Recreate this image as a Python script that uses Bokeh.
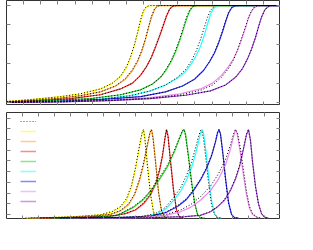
from bokeh.plotting import figure
from bokeh.models import Range1d, LinearAxis, FixedTicker, Legend, LegendItem, CustomJSTickFormatter
from bokeh.layouts import column
from bokeh.core.properties import value
from bokeh.embed import file_html
from bokeh.resources import INLINE

colors = ["#ffff00", "#ffa530", "#ff2828", "#22d822", "#22ffff", "#2828ff", "#ee88ee", "#a040e0"]

# ---- top panel: cumulative curves (x, measured, fit) ----
top_yellow_x = [0, 12, 27, 37, 47, 53, 57, 60, 62, 64, 65.5, 67, 68.5, 70, 72, 137]
top_yellow_y = [0.01, 0.03, 0.06, 0.09, 0.14, 0.20, 0.27, 0.36, 0.46, 0.59, 0.71, 0.84, 0.94, 0.985, 1.0, 1.0]
top_yellow_fit = [0.012, 0.03, 0.06, 0.09, 0.14, 0.2, 0.27, 0.37, 0.47, 0.6, 0.72, 0.85, 0.95, 0.99, 1.0, 1.0]

top_orange_x = [0, 12, 27, 37, 47, 54.5, 59.5, 63, 65.5, 67.5, 69.5, 71, 72.5, 74, 75.5, 77, 137]
top_orange_y = [0.005, 0.02, 0.045, 0.07, 0.11, 0.17, 0.24, 0.33, 0.42, 0.52, 0.65, 0.77, 0.88, 0.96, 0.995, 1.0, 1.0]
top_orange_fit = [0.006, 0.02, 0.045, 0.07, 0.11, 0.17, 0.25, 0.34, 0.43, 0.53, 0.66, 0.78, 0.89, 0.965, 0.995, 1.0, 1.0]

top_red_x = [0, 17, 32, 47, 57, 63, 67, 70, 72.5, 74.5, 76.5, 78.5, 80, 81.5, 83, 85, 137]
top_red_y = [0.004, 0.02, 0.04, 0.08, 0.14, 0.2, 0.28, 0.37, 0.47, 0.57, 0.68, 0.8, 0.89, 0.96, 0.99, 1.0, 1.0]
top_red_fit = [0.005, 0.02, 0.04, 0.08, 0.14, 0.2, 0.28, 0.37, 0.47, 0.58, 0.69, 0.81, 0.9, 0.965, 0.99, 1.0, 1.0]

top_green_x = [0, 22, 42, 57, 67, 73, 77, 80, 82.5, 84.5, 86.5, 88.5, 90, 91.5, 93, 95, 137]
top_green_y = [0.003, 0.02, 0.04, 0.08, 0.13, 0.19, 0.26, 0.34, 0.43, 0.52, 0.63, 0.76, 0.86, 0.94, 0.985, 1.0, 1.0]
top_green_fit = [0.003, 0.02, 0.04, 0.08, 0.13, 0.19, 0.26, 0.35, 0.44, 0.54, 0.65, 0.78, 0.88, 0.95, 0.99, 1.0, 1.0]

top_cyan_x = [0, 27, 47, 62, 72, 79.5, 85.5, 89.5, 92.5, 95, 97, 99, 100.5, 102, 103.5, 105, 107, 137]
top_cyan_y = [0.002, 0.015, 0.035, 0.07, 0.12, 0.18, 0.25, 0.32, 0.4, 0.49, 0.58, 0.7, 0.81, 0.91, 0.97, 0.995, 1.0, 1.0]
top_cyan_fit = [0.002, 0.015, 0.035, 0.07, 0.12, 0.18, 0.26, 0.34, 0.43, 0.54, 0.65, 0.78, 0.88, 0.95, 0.985, 1.0, 1.0, 1.0]

top_blue_x = [0, 27, 47, 67, 79.5, 88, 94, 98.5, 101.5, 104, 106, 108, 109.5, 111, 112.5, 114, 116, 137]
top_blue_y = [0.002, 0.012, 0.03, 0.06, 0.11, 0.17, 0.24, 0.33, 0.42, 0.51, 0.61, 0.73, 0.83, 0.92, 0.975, 0.995, 1.0, 1.0]
top_blue_fit = [0.002, 0.012, 0.03, 0.06, 0.11, 0.17, 0.24, 0.33, 0.42, 0.52, 0.62, 0.74, 0.84, 0.93, 0.98, 0.997, 1.0, 1.0]

top_pink_x = [0, 27, 52, 72, 87, 97, 103, 107.5, 111, 113.5, 115.5, 117.5, 119.5, 121, 122.5, 124, 126, 137]
top_pink_y = [0.001, 0.008, 0.025, 0.05, 0.09, 0.14, 0.2, 0.28, 0.37, 0.45, 0.54, 0.65, 0.77, 0.87, 0.94, 0.98, 1.0, 1.0]
top_pink_fit = [0.001, 0.007, 0.022, 0.045, 0.08, 0.125, 0.18, 0.26, 0.35, 0.44, 0.54, 0.66, 0.78, 0.88, 0.945, 0.985, 1.0, 1.0]

top_purple_x = [0, 27, 52, 72, 89.5, 102, 109.5, 114.5, 118, 120.5, 122.5, 124.5, 126, 127.5, 129, 130.5, 132.5, 137]
top_purple_y = [0.0, 0.006, 0.02, 0.04, 0.075, 0.12, 0.18, 0.26, 0.35, 0.45, 0.55, 0.67, 0.78, 0.88, 0.95, 0.985, 1.0, 1.0]
top_purple_fit = [0.0, 0.006, 0.02, 0.04, 0.075, 0.12, 0.18, 0.26, 0.35, 0.45, 0.55, 0.67, 0.78, 0.88, 0.95, 0.985, 1.0, 1.0]

# ---- bottom panel: normalised peaks (x, measured, fit) ----
bot_yellow_x = [9.5, 22, 34.5, 47, 53, 57, 60, 62.5, 64.5, 66.5, 67.75, 68.5, 69.25, 70.5, 72, 73.5, 75, 77]
bot_yellow_y = [0, 0.005, 0.015, 0.035, 0.07, 0.12, 0.2, 0.35, 0.55, 0.8, 0.95, 1.0, 0.9, 0.6, 0.28, 0.07, 0.01, 0]
bot_yellow_fit = [0, 0.005, 0.016, 0.037, 0.075, 0.13, 0.22, 0.37, 0.57, 0.82, 0.96, 1.0, 0.88, 0.58, 0.27, 0.07, 0.01, 0]

bot_orange_x = [12, 27, 42, 52, 57, 61, 64, 66.5, 68.5, 70.5, 71.75, 72.5, 73.25, 74.5, 76, 77.5, 79, 81]
bot_orange_y = [0, 0.005, 0.015, 0.04, 0.08, 0.15, 0.26, 0.42, 0.6, 0.82, 0.96, 1.0, 0.92, 0.65, 0.3, 0.08, 0.01, 0]
bot_orange_fit = [0, 0.005, 0.016, 0.042, 0.085, 0.16, 0.27, 0.44, 0.62, 0.84, 0.97, 1.0, 0.9, 0.63, 0.29, 0.08, 0.01, 0]

bot_red_x = [17, 37, 52, 59.5, 64.5, 68.5, 72, 74.5, 76.5, 78, 79.25, 80, 80.75, 82, 83.5, 85, 86.5, 88.5]
bot_red_y = [0, 0.005, 0.02, 0.05, 0.09, 0.16, 0.26, 0.38, 0.53, 0.7, 0.9, 1.0, 0.93, 0.65, 0.32, 0.09, 0.01, 0]
bot_red_fit = [0, 0.005, 0.02, 0.05, 0.095, 0.17, 0.28, 0.4, 0.55, 0.72, 0.91, 1.0, 0.92, 0.63, 0.31, 0.09, 0.01, 0]

bot_green_x = [22, 42, 55.5, 63.5, 68, 72, 76, 80.5, 84, 86.5, 88, 88.75, 89.5, 91, 92.5, 94, 95.5, 97, 99]
bot_green_y = [0, 0.005, 0.03, 0.12, 0.2, 0.3, 0.42, 0.58, 0.75, 0.9, 0.98, 1.0, 0.95, 0.7, 0.42, 0.18, 0.04, 0.005, 0]
bot_green_fit = [0, 0.006, 0.032, 0.13, 0.21, 0.31, 0.44, 0.6, 0.77, 0.91, 0.99, 1.0, 0.93, 0.68, 0.4, 0.17, 0.04, 0.005, 0]

bot_cyan_x = [27, 52, 67, 74.5, 79.5, 83.5, 87, 90, 92.5, 94.5, 96, 97, 97.75, 98.5, 99.75, 101, 102.5, 104, 105.5, 107.5]
bot_cyan_y = [0, 0.005, 0.01, 0.04, 0.1, 0.2, 0.3, 0.43, 0.57, 0.72, 0.86, 0.96, 1.0, 0.96, 0.75, 0.48, 0.2, 0.05, 0.005, 0]
bot_cyan_fit = [0, 0.006, 0.015, 0.05, 0.12, 0.23, 0.34, 0.48, 0.63, 0.79, 0.92, 0.99, 0.98, 0.9, 0.66, 0.4, 0.15, 0.04, 0.005, 0]

bot_blue_x = [27, 57, 72, 79.5, 85.5, 90, 93.5, 97, 100, 102.5, 104.5, 105.5, 106.25, 107, 108.25, 109.5, 111, 112.5, 114, 116]
bot_blue_y = [0, 0.005, 0.02, 0.06, 0.13, 0.21, 0.31, 0.43, 0.56, 0.7, 0.86, 0.96, 1.0, 0.95, 0.72, 0.45, 0.18, 0.04, 0.005, 0]
bot_blue_fit = [0, 0.006, 0.022, 0.065, 0.14, 0.22, 0.32, 0.44, 0.57, 0.71, 0.87, 0.97, 1.0, 0.94, 0.7, 0.43, 0.17, 0.04, 0.005, 0]

bot_pink_x = [32, 62, 79.5, 87, 92, 97, 102, 106, 109.5, 112, 113.5, 114.5, 115.5, 117, 118.5, 120, 121.5, 123, 125, 127]
bot_pink_y = [0, 0.005, 0.03, 0.07, 0.12, 0.2, 0.31, 0.44, 0.6, 0.78, 0.92, 1.0, 0.94, 0.72, 0.48, 0.26, 0.11, 0.04, 0.01, 0]
bot_pink_fit = [0, 0.008, 0.04, 0.09, 0.15, 0.24, 0.36, 0.5, 0.66, 0.83, 0.95, 1.0, 0.96, 0.78, 0.54, 0.3, 0.13, 0.05, 0.012, 0]

bot_purple_x = [37, 72, 89.5, 97, 102, 105.5, 109, 112, 114.5, 116.5, 118.5, 120, 121, 122, 123, 124.5, 126, 127.5, 129, 131]
bot_purple_y = [0, 0.005, 0.015, 0.03, 0.07, 0.125, 0.2, 0.31, 0.44, 0.58, 0.78, 0.94, 1.0, 0.88, 0.64, 0.36, 0.16, 0.05, 0.01, 0]
bot_purple_fit = [0, 0.005, 0.016, 0.032, 0.072, 0.13, 0.21, 0.32, 0.45, 0.59, 0.79, 0.95, 1.0, 0.87, 0.63, 0.35, 0.16, 0.05, 0.01, 0]

top_series = [
    (top_yellow_x, top_yellow_y, top_yellow_fit),
    (top_orange_x, top_orange_y, top_orange_fit),
    (top_red_x, top_red_y, top_red_fit),
    (top_green_x, top_green_y, top_green_fit),
    (top_cyan_x, top_cyan_y, top_cyan_fit),
    (top_blue_x, top_blue_y, top_blue_fit),
    (top_pink_x, top_pink_y, top_pink_fit),
    (top_purple_x, top_purple_y, top_purple_fit),
]
bot_series = [
    (bot_yellow_x, bot_yellow_y, bot_yellow_fit),
    (bot_orange_x, bot_orange_y, bot_orange_fit),
    (bot_red_x, bot_red_y, bot_red_fit),
    (bot_green_x, bot_green_y, bot_green_fit),
    (bot_cyan_x, bot_cyan_y, bot_cyan_fit),
    (bot_blue_x, bot_blue_y, bot_blue_fit),
    (bot_pink_x, bot_pink_y, bot_pink_fit),
    (bot_purple_x, bot_purple_y, bot_purple_fit),
]

X_MAX = 137.0
top_xticks = [X_MAX / 16 * k for k in range(1, 16)]
bot_xticks = [X_MAX / 17 * k for k in range(1, 17)]
top_yticks = [0.0, 0.2, 0.4, 0.6, 0.8, 1.0]
bot_yticks = [0.04 + 0.121 * k for k in range(10)]


def make_fig(fh, yr, xticks, yticks, top_border):
    p = figure(frame_width=274, frame_height=fh, x_range=Range1d(0, X_MAX), y_range=Range1d(*yr),
               x_axis_location=None, y_axis_location=None, toolbar_location=None,
               output_backend="svg", min_border=0, min_border_top=top_border, min_border_left=6)
    p.xgrid.grid_line_color = None
    p.ygrid.grid_line_color = None
    p.outline_line_color = "#333333"
    p.outline_line_width = 1
    p.background_fill_color = "white"
    p.border_fill_color = "white"
    for loc, ticks in (("below", xticks), ("above", xticks), ("left", yticks), ("right", yticks)):
        ax = LinearAxis(ticker=FixedTicker(ticks=ticks), formatter=CustomJSTickFormatter(code="return ''"))
        ax.major_tick_in = 4
        ax.major_tick_out = 0
        ax.minor_tick_in = 0
        ax.minor_tick_out = 0
        ax.major_label_text_font_size = "0px"
        ax.major_label_standoff = 0
        ax.axis_line_color = None
        ax.major_tick_line_color = "#808080"
        p.add_layout(ax, loc)
    return p


p1 = make_fig(105, (-0.031, 1.052), top_xticks, top_yticks, 0)
for (xs, ys, fs), c in zip(top_series, colors):
    p1.line(xs, ys, line_color=c, line_width=1.2)
for (xs, ys, fs), c in zip(top_series, colors):
    p1.line(xs, fs, line_color="black", line_width=1, line_dash="1 2")

p2 = make_fig(107, (-0.017, 1.192), bot_xticks, bot_yticks, 7)
for (xs, ys, fs), c in zip(bot_series, colors):
    p2.line(xs, ys, line_color=c, line_width=1.2)
for (xs, ys, fs), c in zip(bot_series, colors):
    p2.line(xs, fs, line_color="black", line_width=1, line_dash="1 2")

# legend swatches (renderers holding no visible point, styled like the legend)
nan = float("nan")
fit_proxy = p2.line(x=[nan], y=[nan], line_color="black", line_alpha=0.7, line_width=1, line_dash="1 2")
items = [LegendItem(label=value(""), renderers=[fit_proxy])]
for c in colors:
    r = p2.line(x=[nan], y=[nan], line_color=c, line_alpha=0.55, line_width=1.5)
    items.append(LegendItem(label=value(""), renderers=[r]))
leg = Legend(items=items, location=(14, 13), glyph_width=16, glyph_height=10, label_height=10,
             label_width=0, label_standoff=0, spacing=0, padding=0, margin=0,
             background_fill_alpha=0, border_line_color=None, label_text_font_size="1px")
p2.add_layout(leg, "center")

layout = column(p1, p2, spacing=0)
open("out.html", "w").write(file_html(layout, INLINE))
